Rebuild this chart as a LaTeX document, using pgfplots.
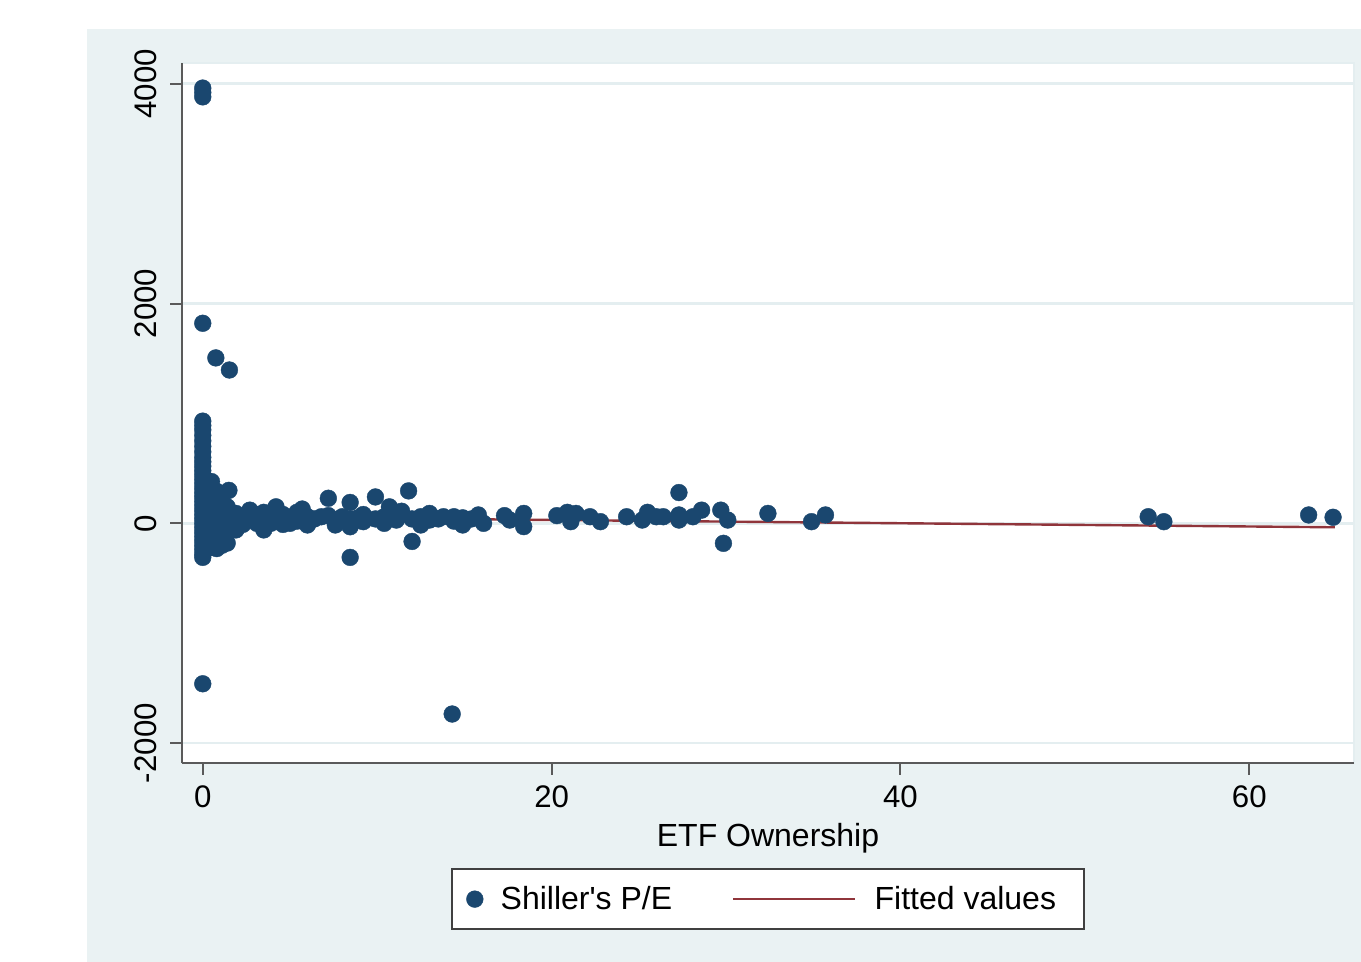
\documentclass[border=0pt]{standalone}
\usepackage{fontspec}
\setmainfont{Liberation Sans}
\newfontfamily\plainfont{Liberation Sans}
\usepackage{pgfplots}
\pgfplotsset{compat=1.18}
\definecolor{stbg}{HTML}{EAF2F3}
\definecolor{stnavy}{HTML}{1A476F}
\definecolor{stmaroon}{HTML}{90353B}
\definecolor{stgrid}{HTML}{E4EEF0}
\definecolor{staxis}{HTML}{5A5A5A}
\pgfplotsset{
  legscat/.style={legend image code/.code={\draw[##1] plot coordinates {(4pt,0pt)}; \path (0pt,0pt) (14.5pt,0pt);}},
  legline/.style={legend image code/.code={\draw[##1] (0pt,0pt) -- (61pt,0pt); \path (68pt,0pt);}},
}
\begin{document}
\begin{tikzpicture}[x=1pt,y=1pt]
\path[use as bounding box, fill=white] (0,0) rectangle (680.5,-481);
\fill[stbg] (43.5,-14.5) rectangle (680.5,-481);
\begin{axis}[
  at={(91pt,-381.35pt)}, anchor=south west,
  scale only axis, width=586pt, height=350pt,
  xmin=-1.19, xmax=66.0, ymin=-2178, ymax=4191,
  axis background/.style={fill=white, draw=stgrid, line width=1pt},
  axis x line*=bottom, axis y line*=left,
  axis line style={staxis, line width=1pt, -},
  tick align=outside, major tick length=6pt,
  tick style={staxis, line width=1pt},
  xtick={0,20,40,60}, ytick={-2000,0,2000,4000},
  ymajorgrids, grid style={stgrid, line width=1.2pt},
  /pgf/number format/assume math mode=true,
  /pgf/number format/set thousands separator={},
  scaled ticks=false,
  ticklabel style={font=\fontsize{15.6}{18}\selectfont, text=black},
  yticklabel style={rotate=90, anchor=south},
  yticklabel shift=3pt, xticklabel shift=2pt,
  xlabel={ETF Ownership},
  xlabel style={font=\fontsize{16}{19}\selectfont, at={(axis description cs:0.5,-0.119)}, anchor=base},
  legend style={at={(axis description cs:0.5,-0.1506)}, anchor=north,
    draw=black!75, line width=0.9pt, fill=white,
    font=\fontsize{16}{19}\selectfont, legend columns=2,
    inner xsep=7pt, inner ysep=6.5pt,
    /tikz/every even column/.append style={column sep=28pt}},
  legend cell align=left,
]
\addplot[only marks, mark=*, mark size=4.2pt,
  mark options={fill=stnavy, draw=stnavy, line width=0.2pt}, legscat]
coordinates {
(0,3960) (0,3920) (0,3880) (0,1820) (0.75,1505) (1.53,1395) (0,-1460) (14.3,-1735)
(0,930) (0,890) (0,850) (0,800) (0,750) (0,700) (0,650) (0,600) (0,560) (0,520)
(0,480) (0,440) (0,400) (0,360) (0,320) (0,280) (0,240) (0,200) (0,160) (0,120)
(0,80) (0,40) (0,0) (0,-40) (0,-80) (0,-120) (0,-160) (0,-200) (0,-240) (0,-280) (0,-310)
(0.3,300) (0.3,150) (0.3,50) (0.3,-60) (0.3,-180)
(0.5,380) (0.5,250) (0.5,120) (0.5,20) (0.5,-100) (0.5,-220)
(0.8,290) (0.8,180) (0.8,60) (0.8,-40) (0.8,-150) (0.8,-230)
(1.1,220) (1.1,100) (1.1,0) (1.1,-110) (1.1,-200)
(1.4,150) (1.4,50) (1.4,-60) (1.4,-180) (1.5,300)
(1.9,90) (1.9,10) (1.9,-60) (2.3,60) (2.3,-10) (2.7,120) (2.7,40)
(3.1,80) (3.1,0) (3.5,100) (3.5,-60) (3.9,60) (3.9,0) (4.2,150) (4.2,40)
(4.6,80) (4.6,-10) (5.0,50) (5.0,0) (5.4,100) (5.4,20) (5.7,130) (5.7,30)
(6.0,-15) (6.0,60) (6.4,40) (6.8,60) (7.2,228) (7.2,70) (7.6,30) (7.6,-15) (8.0,60)
(8.45,190) (8.45,-31) (8.45,-310) (8.45,40) (8.9,50) (9.2,15) (9.2,80)
(9.9,240) (9.9,40) (10.4,0) (10.4,60) (10.7,150) (11.1,80) (11.1,30) (11.4,110)
(11.8,295) (12.0,-165) (12.0,40) (12.5,-15) (12.5,60) (13.0,90) (13.0,30)
(13.5,40) (13.8,60) (14.4,60) (14.4,20) (14.9,-15) (14.9,50) (15.4,40) (15.8,76) (16.1,0)
(17.3,70) (17.6,30) (18.4,90) (18.4,-30) (20.3,70) (20.9,100) (21.1,15) (21.4,90)
(22.2,60) (22.8,15) (24.3,60) (25.2,30) (25.5,100) (26.0,60) (26.4,60)
(27.3,280) (27.3,76) (27.3,30) (28.1,60) (28.6,120) (29.7,120) (29.85,-182) (30.1,30)
(32.4,90) (34.9,15) (35.7,76) (54.2,60) (55.1,15) (63.4,76) (64.8,55)
};
\addlegendentry{\plainfont Shiller's P/E}
\addplot[stmaroon, line width=1.2pt, legline]
coordinates {(0,60) (64.9,-36)};
\addlegendentry{Fitted values\kern5pt}
\end{axis}
\end{tikzpicture}
\end{document}
